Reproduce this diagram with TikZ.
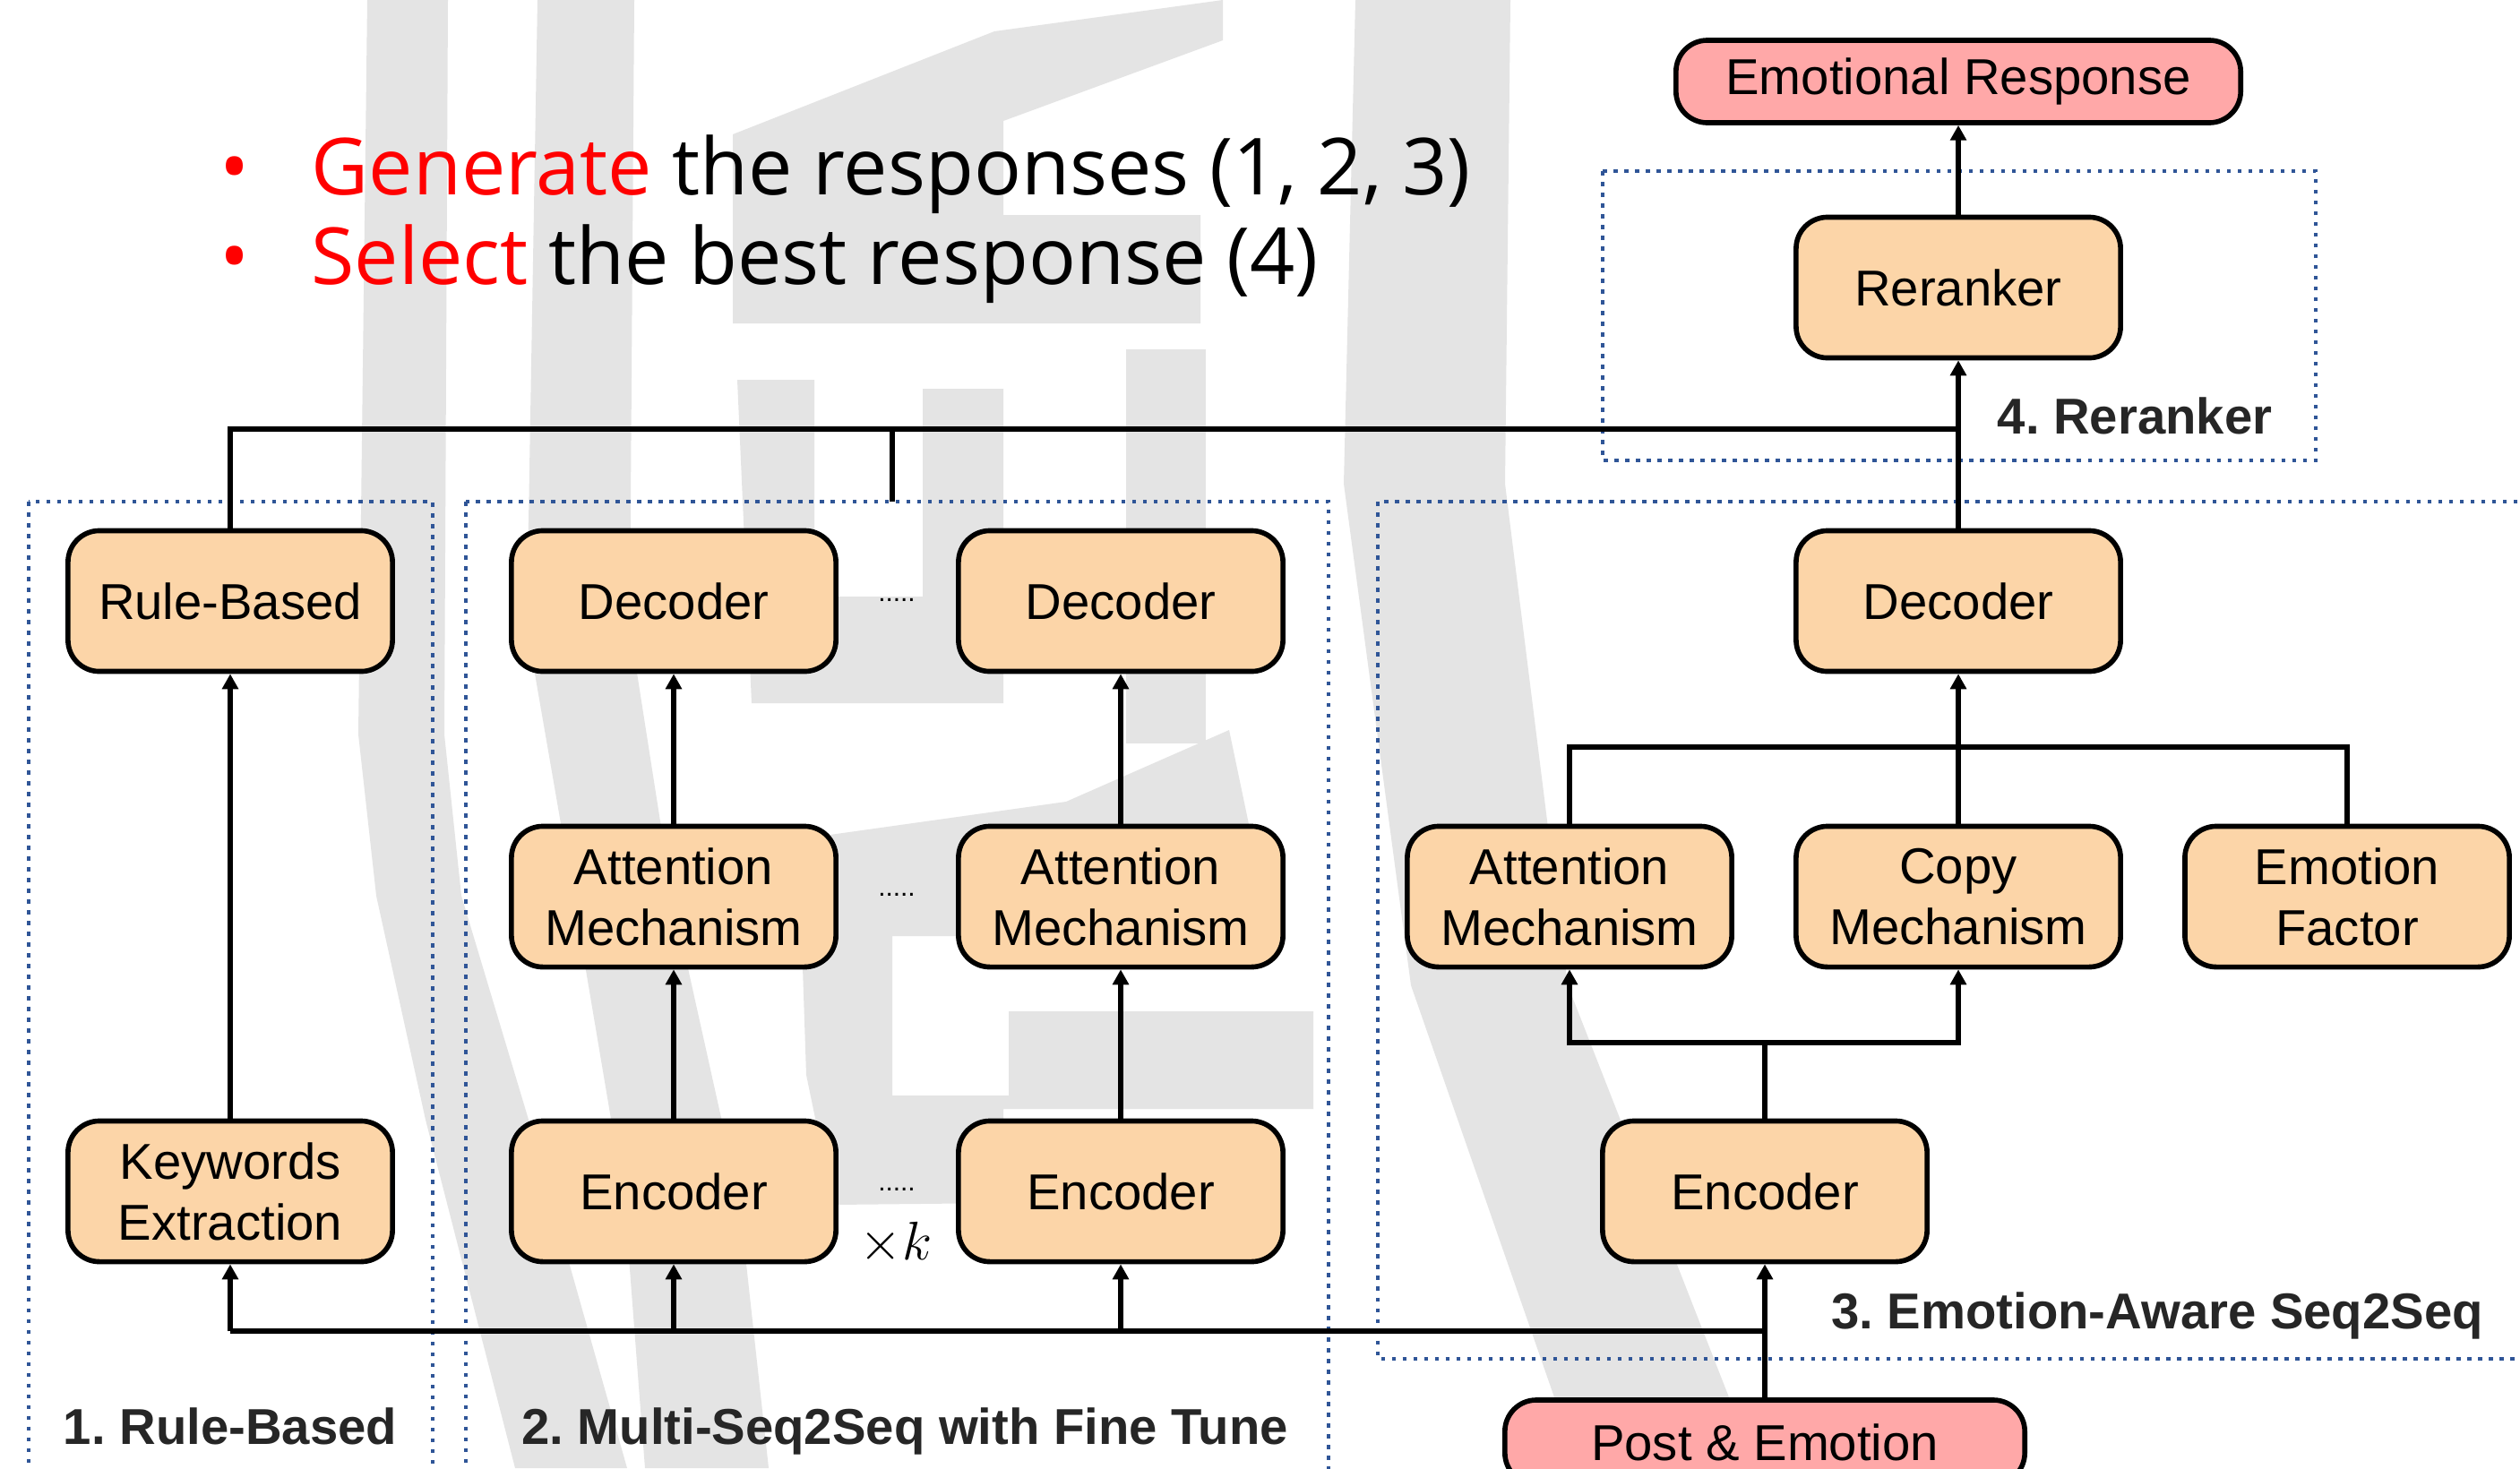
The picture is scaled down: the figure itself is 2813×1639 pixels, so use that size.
\documentclass[tikz,border=0pt]{standalone}
\usepackage{fontspec}
\setmainfont{Liberation Sans}
\newfontfamily\slidefont{Open Sans}
\usetikzlibrary{arrows.meta}
\definecolor{peach}{HTML}{FCD5A8}
\definecolor{rose}{HTML}{FFA8A8}
\definecolor{dotblue}{HTML}{2F5597}
\definecolor{capgray}{HTML}{262626}
\definecolor{wmark}{HTML}{E4E4E4}
\frenchspacing

\begin{document}
\begin{tikzpicture}[x=0.01cm,y=-0.01cm,
  blk/.style={draw=black,line width=1.6pt,rounded corners=0.35cm,fill=peach,minimum width=3.62cm,minimum height=1.57cm,align=center,inner sep=0pt,font=\fontsize{16pt}{19.3pt}\selectfont},
  endblk/.style={blk,fill=rose},
  grp/.style={draw=dotblue,line width=0.045cm,dash pattern=on 0.045cm off 0.075cm},
  lbl/.style={anchor=base,inner sep=0pt,text=capgray,font=\fontsize{16pt}{19pt}\selectfont\bfseries},
  wire/.style={black,line width=1.5pt},
  arr/.style={wire,-{Triangle[length=4.8pt,width=5pt]}},
  etc/.style={anchor=base,inner sep=0pt,font=\fontsize{8.5pt}{9pt}\selectfont},
  slide/.style={inner sep=0pt,font=\slidefont\fontsize{25pt}{30pt}\selectfont}]
\useasboundingbox (0,0) rectangle (2813,1639);
\clip (0,0) rectangle (2813,1639);
\fill [white] (0,0) rectangle (2813,1639);
% watermark
\fill [wmark] (410,0) -- (500,0) -- (496,820) -- (515,1000) -- (590,1250) -- (700,1639) -- (575,1639) -- (475,1250) -- (420,1000) -- (400,820) -- cycle;
\fill [wmark] (600,0) -- (708,0) -- (703,700) -- (750,1000) -- (825,1338) -- (858,1639) -- (720,1639) -- (697,1338) -- (640,1000) -- (588,700) -- cycle;
\fill [wmark] (818,150) -- (1110,35) -- (1365,0) -- (1365,45) -- (1120,135) -- (1120,240) -- (1340,240) -- (1340,361) -- (818,361) -- cycle;
\fill [wmark] (823,424) -- (909,424) -- (909,666) -- (1030,666) -- (1030,434) -- (1120,434) -- (1120,785) -- (839,785) -- cycle;
\fill [wmark] (1257,390) -- (1346,390) -- (1346,830) -- (1257,830) -- cycle;
\fill [wmark] (905,935) -- (1190,895) -- (1372,815) -- (1395,925) -- (1400,1080) -- (1126,1080) -- (1126,1045) -- (996,1045) -- (996,1223) -- (1126,1223) -- (1126,1129) -- (1466,1129) -- (1466,1238) -- (1120,1238) -- (1120,1343) -- (930,1345) -- (900,1200) -- (895,1050) -- cycle;
\fill [wmark] (1513,0) -- (1686,0) -- (1680,540) -- (1750,1100) -- (1930,1560) -- (1950,1639) -- (1760,1639) -- (1734,1557) -- (1575,1100) -- (1500,540) -- cycle;
% headline
\node [slide,anchor=base,text=red] (bul1) at (262,217) {\textbullet};
\node [slide,anchor=base west] (gen) at (347,217) {\textcolor{red}{Generate} the responses (1, 2, 3)};
\node [slide,anchor=base,text=red] (bul2) at (262,317) {\textbullet};
\node [slide,anchor=base west] (sel) at (347,317) {\textcolor{red}{Select} the best response (4)};
% groups
\draw [grp] (32,560) rectangle (483,1700);
\draw [grp] (520,560) rectangle (1483,1700);
\draw [grp] (1538,560) rectangle (2850,1517);
\draw [grp] (1789,191) rectangle (2585,514);
% 1. rule-based
\node [blk] (rb) at (257,671) {Rule-Based};
\node [blk] (kw) at (257,1330) {Keywords\\Extraction};
% 2. multi-seq2seq
\node [blk] (dec1) at (752,671) {Decoder};
\node [blk] (att1) at (752,1001) {Attention\\Mechanism};
\node [blk] (enc1) at (752,1330) {Encoder};
\node [blk] (dec2) at (1251,671) {Decoder};
\node [blk] (att2) at (1251,1001) {Attention\\Mechanism};
\node [blk] (enc2) at (1251,1330) {Encoder};
\node [etc] (dots1) at (1001,671) {.....};
\node [etc] (dots2) at (1001,1000) {.....};
\node [etc] (dots3) at (1001,1329) {.....};
\node [inner sep=0pt,font=\fontsize{17pt}{20pt}\selectfont] (times) at (1000,1388) {$\times k$};
% 3. emotion-aware seq2seq
\node [blk] (dec3) at (2186,671) {Decoder};
\node [blk] (att3) at (1752,1001) {Attention\\Mechanism};
\node [blk] (copy) at (2186,1001) {Copy\\Mechanism};
\node [blk] (emo) at (2620,1001) {Emotion\\Factor};
\node [blk] (enc3) at (1970,1330) {Encoder};
% 4. reranker
\node [blk] (rer) at (2186,321) {Reranker};
\node [endblk,minimum width=6.3cm,minimum height=0.92cm] (resp) at (2186,91) {Emotional Response};
\node [endblk,minimum width=5.8cm,minimum height=0.94cm] (post) at (1970,1610) {Post \& Emotion};
% labels
\node [lbl] (lbl1) at (257,1612) {1. Rule-Based};
\node [lbl] (lbl2) at (1010,1612) {2. Multi-Seq2Seq with Fine Tune};
\node [lbl] (lbl3) at (2408,1483) {3. Emotion-Aware Seq2Seq};
\node [lbl] (lbl4) at (2383,484) {4. Reranker};
% connectors
\coordinate (topbus) at (2186,479);
\coordinate (tick) at (996,560);
\coordinate (botbus) at (1970,1486);
\coordinate (fork) at (1970,1164);
\coordinate (merge) at (2186,834);
\draw [wire] (rb.north) |- (topbus);
\draw [wire] (tick) -- (tick |- topbus);
\draw [arr] (dec3) -- (rer);
\draw [arr] (rer) -- (resp);
\draw [arr] (kw) -- (rb);
\draw [arr] (enc1) -- (att1);
\draw [arr] (att1) -- (dec1);
\draw [arr] (enc2) -- (att2);
\draw [arr] (att2) -- (dec2);
\draw [wire] (kw.south |- botbus) -- (botbus);
\draw [arr] (kw.south |- botbus) -- (kw.south);
\draw [arr] (enc1.south |- botbus) -- (enc1.south);
\draw [arr] (enc2.south |- botbus) -- (enc2.south);
\draw [arr] (post) -- (enc3);
\draw [wire] (enc3) -- (fork);
\draw [arr] (fork) -| (att3.south);
\draw [arr] (fork) -| (copy.south);
\draw [wire] (att3.north) |- (merge);
\draw [wire] (emo.north) |- (merge);
\draw [wire] (copy) -- (merge);
\draw [arr] (merge) -- (dec3);
\end{tikzpicture}
\end{document}
